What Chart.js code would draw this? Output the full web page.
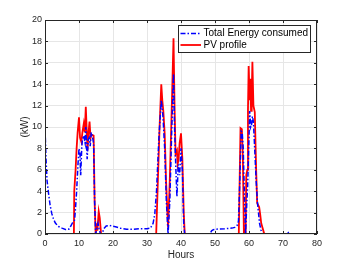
<!DOCTYPE html>
<html>
<head>
<meta charset="utf-8">
<script src="https://cdn.jsdelivr.net/npm/chart.js@4"></script>
<style>
  html, body { margin: 0; padding: 0; background: #fff; }
  canvas { display: block; }
</style>
</head>
<body>
<canvas id="energyChart" width="350" height="263"></canvas>
<script>
// Total energy consumed (kW)
const loadHours = [0, 0.3, 0.6, 1.0, 1.5, 2.0, 2.5, 3.0, 3.5, 4.0, 5.0, 6.0, 7.0, 7.5, 8.0, 8.7, 9.0, 9.3, 9.7, 10.0,
    10.3, 10.5, 10.8, 11.0, 11.4, 11.8, 12.0, 12.4, 12.7, 13.0, 13.3, 13.6, 14.0, 14.3, 14.6, 14.9, 15.3, 15.6, 15.9, 16.3,
    16.8, 17.3, 18.0, 19, 20, 21, 22, 23, 24, 26, 28, 30, 31, 31.8, 32.3, 32.8, 33.5, 34.2, 34.7, 35.2,
    35.7, 36.2, 36.7, 37.3, 37.8, 38.1, 38.5, 38.8, 39.2, 39.6, 40.0, 40.4, 40.8, 41.1, 48.5, 49, 49.5, 50.4, 52.9, 55.0,
    55.8, 56.5, 56.9, 57.3, 57.7, 58.0, 58.3, 58.7, 59.0, 59.3, 59.6, 60.0, 60.2, 60.5, 60.8, 61.0, 61.3, 61.7, 62.1, 62.5,
    63.1, 63.5, 63.9, 71, 71.3, 71.7, 72];
const loadKw = [10, 7, 5, 3.9, 2.7, 1.9, 1.4, 1.05, 0.85, 0.7, 0.55, 0.42, 0.45, 0.7, 1.0, 1.3, 2.5, 4.0, 6.5, 8.0,
    7.5, 5.5, 8.0, 8.8, 9.2, 8.5, 10.0, 7.0, 8.8, 9.0, 8.2, 9.5, 9.0, 8.5, 3, 0, 0.6, 1.0, 0.5, 0,
    0, 0.5, 0.75, 0.8, 0.72, 0.65, 0.55, 0.5, 0.45, 0.45, 0.5, 0.5, 0.55, 1.0, 1.9, 4, 9, 12.5, 11, 8,
    3, 0, 3, 10, 15, 10, 6, 3.5, 6.5, 5.5, 8.0, 6, 1, 0, 0, 0.3, 0.4, 0.45, 0.5, 0.55,
    0.62, 0.8, 1.2, 5, 9.6, 9.5, 8, 3, 0, 2.5, 4.5, 9, 11.5, 10, 10.3, 11, 10.5, 7.8, 5, 2.9,
    1.0, 0.4, 0, 0, 0.2, 0.1, 0.25];

// PV profile (kW)
const pvHours = [0, 8.5, 8.6, 9.0, 9.3, 9.6, 10.0, 10.3, 10.7, 11.0, 11.4, 11.7, 12.0, 12.5, 12.8, 13.1, 13.4, 13.6, 14.3, 14.6,
    14.9, 15.2, 15.4, 15.8, 16.1, 16.5, 32.7, 33.2, 33.7, 34.2, 34.5, 34.8, 35.2, 35.6, 36.2, 36.7, 37.3, 37.8, 38.1, 38.4,
    38.8, 39.0, 39.3, 39.6, 40.0, 40.4, 40.8, 41.1, 57.0, 57.2, 57.5, 57.9, 58.2, 58.5, 59.0, 59.2, 59.5, 59.7, 59.9, 60.2,
    60.4, 60.6, 60.8, 61.0, 61.3, 61.7, 62.1, 62.4, 63.0, 63.3, 63.6, 64.5, 72];
const pvKw = [0, 0, 4.0, 6.0, 8.0, 9.5, 10.9, 9.0, 8.6, 9.5, 10.3, 9.5, 11.9, 7.8, 9.5, 10.5, 9.0, 9.3, 9.2, 3,
    0, 1.0, 0.3, 2.1, 1.5, 0, 0, 5, 10, 14.0, 12.5, 11.5, 9.4, 5, 0.6, 5, 12, 18.3, 12, 7.5,
    7.8, 6.5, 7, 8.5, 9.4, 7, 2, 0, 0, 4, 9.9, 9.8, 7, 0, 0, 5.5, 6, 11.6, 15.7, 12.5,
    14.5, 11.5, 13, 16.1, 12, 11.4, 6, 2.9, 2.5, 1.8, 1.0, 0, 0];

const xTicks = [0, 10, 20, 30, 40, 50, 60, 70, 80];
const yTicks = [0, 2, 4, 6, 8, 10, 12, 14, 16, 18, 20];

const axisColor = '#262626';
const gridColor = '#e6e6e6';

function toPoints(xs, ys) {
    return xs.map((x, i) => ({ x: x, y: ys[i] }));
}

// MATLAB style box with inward tick marks
const axesBox = {
    id: 'axesBox',
    afterDatasetsDraw(chart) {
        const { ctx, chartArea: a, scales } = chart;
        ctx.save();
        ctx.strokeStyle = axisColor;
        ctx.lineWidth = 1;
        ctx.strokeRect(a.left + 0.5, a.top + 0.5, a.right - a.left - 1, a.bottom - a.top - 1);
        ctx.beginPath();
        xTicks.forEach(t => {
            const px = Math.round(scales.x.getPixelForValue(t)) + 0.5;
            ctx.moveTo(px, a.bottom); ctx.lineTo(px, a.bottom - 3);
            ctx.moveTo(px, a.top); ctx.lineTo(px, a.top + 3);
        });
        yTicks.forEach(t => {
            const py = Math.round(scales.y.getPixelForValue(t)) + 0.5;
            ctx.moveTo(a.left, py); ctx.lineTo(a.left + 3, py);
            ctx.moveTo(a.right, py); ctx.lineTo(a.right - 3, py);
        });
        ctx.stroke();
        ctx.restore();
    }
};

const legendBox = {
    id: 'legendBox',
    afterDraw(chart) {
        const ctx = chart.ctx;
        const sets = chart.data.datasets;
        ctx.save();
        ctx.fillStyle = '#fff';
        ctx.fillRect(178.5, 25.5, 132, 27);
        ctx.strokeStyle = axisColor;
        ctx.lineWidth = 1;
        ctx.strokeRect(178.5, 25.5, 132, 27);
        ctx.font = '10px "Liberation Sans", Arial, sans-serif';
        ctx.textBaseline = 'middle';
        sets.forEach((ds, i) => {
            const y = 33.5 + i * 11.5;
            ctx.strokeStyle = ds.borderColor;
            ctx.lineWidth = ds.borderWidth;
            ctx.setLineDash(ds.borderDash || []);
            ctx.beginPath();
            ctx.moveTo(180.5, y);
            ctx.lineTo(201, y);
            ctx.stroke();
            ctx.setLineDash([]);
            ctx.fillStyle = '#000';
            ctx.fillText(ds.label, 203.5, y);
        });
        ctx.restore();
    }
};

const ctx = document.getElementById('energyChart').getContext('2d');
new Chart(ctx, {
    type: 'line',
    data: {
        datasets: [{
            label: 'Total Energy consumed',
            data: toPoints(loadHours, loadKw),
            borderColor: '#0000ff',
            borderWidth: 1.5,
            borderDash: [5, 2, 1.5, 2],
            pointRadius: 0,
            tension: 0,
            fill: false
        }, {
            label: 'PV profile',
            data: toPoints(pvHours, pvKw),
            borderColor: '#ff0000',
            borderWidth: 1.8,
            pointRadius: 0,
            tension: 0,
            fill: false
        }]
    },
    options: {
        responsive: false,
        animation: false,
        devicePixelRatio: 1,
        layout: { padding: { left: 0, right: 33, top: 20, bottom: 0 } },
        plugins: {
            legend: { display: false },
            tooltip: { enabled: false }
        },
        scales: {
            x: {
                type: 'linear',
                min: 0,
                max: 80,
                afterBuildTicks: scale => { scale.ticks = xTicks.map(v => ({ value: v })); },
                afterFit: scale => { scale.height = 29; },
                grid: { color: gridColor, drawTicks: false },
                border: { display: false },
                ticks: {
                    color: axisColor,
                    padding: 4,
                    maxRotation: 0,
                    font: { family: '"Liberation Sans", Arial, sans-serif', size: 9 }
                },
                title: {
                    display: true,
                    text: 'Hours',
                    color: axisColor,
                    padding: { top: 0, bottom: 2 },
                    font: { family: '"Liberation Sans", Arial, sans-serif', size: 10 }
                }
            },
            y: {
                min: 0,
                max: 20,
                afterBuildTicks: scale => { scale.ticks = yTicks.map(v => ({ value: v })); },
                afterFit: scale => { scale.width = 45; },
                grid: { color: gridColor, drawTicks: false },
                border: { display: false },
                ticks: {
                    color: axisColor,
                    padding: 3,
                    font: { family: '"Liberation Sans", Arial, sans-serif', size: 9 }
                },
                title: {
                    display: true,
                    text: '(kW)',
                    color: axisColor,
                    padding: { top: 19, bottom: 0 },
                    font: { family: '"Liberation Sans", Arial, sans-serif', size: 10 }
                }
            }
        }
    },
    plugins: [axesBox, legendBox]
});
</script>
</body>
</html>
